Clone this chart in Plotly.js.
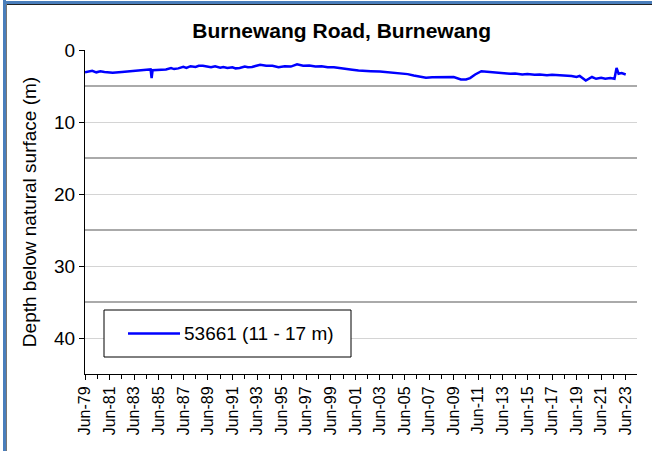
<!DOCTYPE html>
<html><head><meta charset="utf-8">
<script src="https://cdn.plot.ly/plotly-3.0.1.min.js"></script>
<style>
html,body{margin:0;padding:0;background:#fff;}
#wrap{position:relative;width:652px;height:451px;overflow:hidden;}
#chart{position:absolute;left:0;top:0;width:652px;height:451px;}
.b{position:absolute;}
</style></head><body>
<div id="wrap"><div id="chart"></div>
<div class="b" style="left:3px;top:0;width:3px;height:451px;background:#4a7ebb"></div>
<div class="b" style="left:3px;top:1px;width:649px;height:3px;background:#4a7ebb"></div>
<div class="b" style="left:6px;top:4px;width:646px;height:1px;background:#222"></div>
<div class="b" style="left:6px;top:4px;width:1px;height:447px;background:#777"></div>
</div>
<script>
const chartTitle = 'Burnewang Road, Burnewang';
const yAxisTitle = 'Depth below natural surface (m)';
const seriesName = '53661 (11 - 17 m)';
const dates = ['1979-06','1979-10','1980-01','1980-05','1980-09','1981-01','1981-03','1981-09','1982-06','1983-06','1984-06','1984-10','1984-11','1984-12','1985-06','1986-01','1986-06','1986-09','1987-01','1987-06','1987-09','1988-01','1988-06','1988-09','1989-01','1989-06','1989-09','1990-01','1990-06','1990-09','1991-01','1991-06','1991-09','1992-01','1992-06','1992-09','1993-01','1993-09','1994-03','1994-09','1995-03','1995-09','1996-03','1996-09','1997-03','1997-09','1998-03','1998-09','1999-03','1999-09','2000-03','2000-09','2001-03','2001-09','2002-03','2002-09','2003-06','2004-01','2004-09','2005-03','2005-09','2006-03','2006-09','2007-03','2007-09','2008-06','2009-06','2010-01','2010-06','2010-10','2011-03','2011-09','2012-06','2013-01','2013-06','2014-01','2014-06','2015-01','2015-06','2016-01','2016-06','2017-01','2017-06','2018-01','2018-06','2019-01','2019-06','2019-09','2020-03','2020-06','2020-09','2021-01','2021-06','2021-10','2022-03','2022-07','2022-09','2022-11','2023-02','2023-06'];
const depths = [3.1,2.95,2.9,3.1,2.95,3.05,3.1,3.15,3.05,2.95,2.75,2.7,3.9,2.8,2.75,2.7,2.5,2.65,2.55,2.35,2.5,2.25,2.35,2.2,2.2,2.3,2.4,2.25,2.45,2.35,2.5,2.4,2.55,2.5,2.3,2.4,2.35,2.05,2.2,2.2,2.4,2.25,2.3,2.0,2.2,2.15,2.3,2.25,2.4,2.4,2.55,2.6,2.75,2.85,2.85,2.95,3.0,3.1,3.15,3.3,3.35,3.55,3.65,3.85,3.8,3.8,3.75,4.1,4.1,3.9,3.4,2.95,3.05,3.15,3.2,3.3,3.25,3.4,3.35,3.45,3.4,3.5,3.45,3.5,3.55,3.6,3.75,3.6,4.25,4.0,3.75,4.0,3.85,4.0,3.9,4.0,2.5,3.3,3.2,3.4];
const xRange = ['1979-06-01','2024-05-01'];
const yRange = [45, 0];

const W = 652, H = 451;
const M = {l:85, r:15, t:50, b:77};
const fx = p => (p - M.l) / (W - M.l - M.r);
const fy = p => (H - M.b - p) / (H - M.t - M.b);
const FONT = 'Liberation Sans, Arial, sans-serif';

const traces = [{
  x: dates, y: depths, type: 'scatter', mode: 'lines', name: seriesName,
  line: {color: '#0000ff', width: 2.5}, showlegend: false, hoverinfo: 'skip'
}];

const layout = {
  width: W, height: H, margin: M,
  paper_bgcolor: '#fff', plot_bgcolor: '#fff',
  font: {family: FONT, color: '#000'},
  title: {text: chartTitle, font: {family: FONT, size: 21, weight: 'bold', color: '#000'},
          x: 341.7 / W, xref: 'container', xanchor: 'center', y: 1 - 31 / H, yref: 'container', yanchor: 'middle'},
  xaxis: {
    type: 'date', range: xRange, tick0: '1979-06-01', dtick: 'M24', tickformat: '%b-%y',
    tickangle: -90, tickfont: {family: FONT, size: 16}, ticks: 'outside', ticklen: 5, tickcolor: '#000',
    showline: true, linecolor: '#000', linewidth: 1, showgrid: false, zeroline: false,
    minor: {tick0: '1979-06-01', dtick: 'M12', ticks: 'outside', ticklen: 4, tickcolor: '#000', showgrid: false}
  },
  xaxis2: {
    type: 'date', range: xRange, overlaying: 'x', anchor: 'y', side: 'bottom',
    tick0: '1979-06-01', dtick: 'M24', ticks: 'inside', ticklen: 5, tickcolor: '#000',
    showticklabels: false, showgrid: false, zeroline: false, showline: false
  },
  yaxis: {
    range: yRange, tick0: 0, dtick: 10, ticks: 'outside', ticklen: 5, tickcolor: '#000',
    tickfont: {family: FONT, size: 19}, showline: true, linecolor: '#000', linewidth: 1,
    showgrid: true, gridcolor: '#d4d4d4', gridwidth: 1, zeroline: false,
    title: {text: yAxisTitle, font: {family: FONT, size: 19}, standoff: 12},
    minor: {tick0: 5, dtick: 5, showgrid: true, gridcolor: '#aaaaaa', gridwidth: 2, ticks: ''}
  },
  shapes: [
    {type: 'rect', xref: 'paper', yref: 'paper', x0: fx(104), x1: fx(351), y0: fy(310), y1: fy(357),
     line: {color: '#000', width: 1}, fillcolor: '#fff', layer: 'above'},
    {type: 'line', xref: 'paper', yref: 'paper', x0: fx(128), x1: fx(180), y0: fy(333.5), y1: fy(333.5),
     line: {color: '#0000ff', width: 2.5}, layer: 'above'}
  ],
  annotations: [
    {text: seriesName, xref: 'paper', yref: 'paper', x: fx(182), y: fy(333.5), xanchor: 'left', yanchor: 'middle',
     showarrow: false, font: {family: FONT, size: 19, color: '#000'}}
  ]
};

Plotly.newPlot('chart', traces, layout, {staticPlot: true, displayModeBar: false});
</script>
</body></html>
